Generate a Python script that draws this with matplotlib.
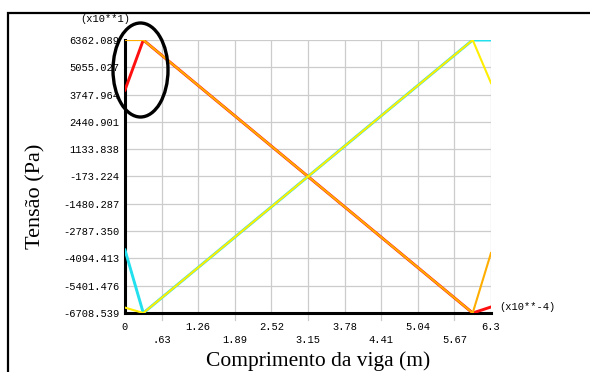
import numpy as np
import matplotlib
matplotlib.use("Agg")
from matplotlib import pyplot as plt
from matplotlib.patches import Ellipse, Rectangle

# node positions along the beam (m) and stresses (Pa, x10)
x_nodes = [0.0, 0.315, 5.985, 6.3]
red_vals = [3968.0, 6362.089, -6708.539, -6420.0]
orange_vals = [6362.089, 6362.089, -6708.539, -3836.0]
cyan_vals = [-3692.0, -6708.539, 6362.089, 6362.089]
yellow_vals = [-6450.0, -6708.539, 6362.089, 4303.0]

y_ticks = [6362.089, 5055.026, 3747.964, 2440.901, 1133.838, -173.224,
           -1480.287, -2787.350, -4094.413, -5401.476, -6708.539]
y_tick_labels = ["6362.089", "5055.027", "3747.964", "2440.901", "1133.838", "-173.224",
                 "-1480.287", "-2787.350", "-4094.413", "-5401.476", "-6708.539"]
x_ticks = [0, 0.63, 1.26, 1.89, 2.52, 3.15, 3.78, 4.41, 5.04, 5.67, 6.3]
x_tick_labels = ["0", ".63", "1.26", "1.89", "2.52", "3.15", "3.78", "4.41", "5.04", "5.67", "6.3"]

mono = "Liberation Mono"
serif = "Liberation Serif"

fig = plt.figure(figsize=(5.9, 3.72), dpi=100)
fig.patches.append(Rectangle((7.5 / 590, -0.1), 1.2, (372 - 12.5) / 372 + 0.1,
                             transform=fig.transFigure, fill=False,
                             edgecolor="black", linewidth=1.6))

ax = fig.add_axes([125 / 590, 59 / 372, 366 / 590, 273 / 372])
ax.set_xlim(0, 6.3)
ax.set_ylim(y_ticks[-1], y_ticks[0])

ax.plot(x_nodes, red_vals, color="#ff1010", lw=2.1, zorder=3)
ax.plot(x_nodes, orange_vals, color="#ffae00", lw=1.5, zorder=4)
ax.plot(x_nodes, cyan_vals, color="#22e0ee", lw=2.1, zorder=3)
ax.plot(x_nodes, yellow_vals, color="#ffee00", lw=1.5, zorder=4)

for v in y_ticks:
    ax.axhline(v, color="#cccccc", lw=0.9, zorder=1)
for v in x_ticks:
    ax.axvline(v, color="#cccccc", lw=0.9, zorder=1)

for s in ["top", "right"]:
    ax.spines[s].set_visible(False)
ax.spines["left"].set_linewidth(2.2)
ax.spines["bottom"].set_linewidth(2.2)

ax.set_yticks(y_ticks)
ax.set_yticklabels(y_tick_labels, fontfamily=mono, fontsize=7.5)
ax.tick_params(axis="y", length=0, pad=4)

ax.set_xticks(x_ticks)
ax.set_xticklabels([])
ax.tick_params(axis="x", length=0)
for i, (v, lab) in enumerate(zip(x_ticks, x_tick_labels)):
    off = -14 if i % 2 == 0 else -27
    ax.annotate(lab, (v, 0), xycoords=("data", "axes fraction"),
                xytext=(0, off * 0.72), textcoords="offset points",
                ha="center", va="center", fontfamily=mono, fontsize=7.5)
    if i % 2 == 1:
        ax.plot([v, v], [0, -7 / 273], transform=ax.get_xaxis_transform(),
                color="#cccccc", lw=0.9, clip_on=False)

fig.text(105 / 590, 1 - 19 / 372, "(x10**1)", fontfamily=mono, fontsize=7.5,
         ha="center", va="center")
fig.text(499 / 590, 1 - 307 / 372, "(x10**-4)", fontfamily=mono, fontsize=7.5,
         ha="left", va="center")

fig.text(36 / 590, 1 - 196 / 372, "Tensão (Pa)", fontfamily=serif, fontsize=16,
         rotation=90, ha="center", va="center")
fig.text(318.5 / 590, 1 - 361 / 372, "Comprimento da viga (m)", fontfamily=serif,
         fontsize=15.5, ha="center", va="center")

fig.patches.append(Ellipse((140.5 / 590, 1 - 70 / 372), 55 / 590, 94 / 372,
                           transform=fig.transFigure, fill=False,
                           edgecolor="black", linewidth=2.4, zorder=10))

fig.savefig("out.png", dpi=100)
